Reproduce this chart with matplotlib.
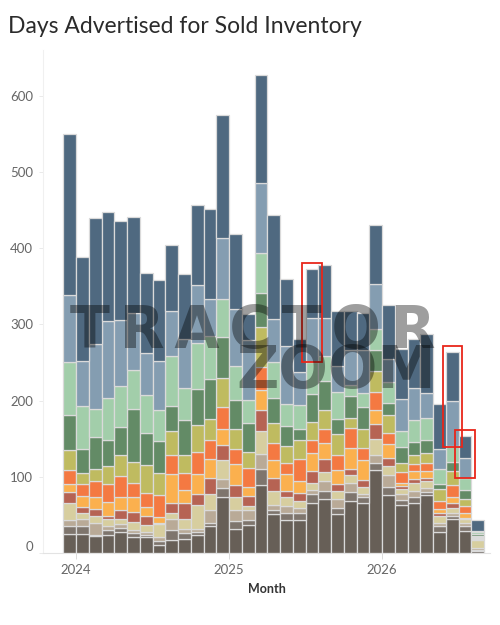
import matplotlib
matplotlib.use("Agg")
import matplotlib.pyplot as plt
from matplotlib.patches import Rectangle
import numpy as np

# ---- data (months Dec 2023 .. Aug 2026), stacked bottom -> top ----
months = [f"{y}-{m:02d}" for y, m in
          [(2023, 12)] + [(2024, m) for m in range(1, 13)] +
          [(2025, m) for m in range(1, 13)] + [(2026, m) for m in range(1, 9)]]

s01 = [25,25,22,24,27,21,21,10,17,18,24,35,74,32,37,89,51,43,43,65,71,51,68,66,109,76,63,65,76,28,44,29,2]
s02 = [10,10,2,6,6,5,3,6,13,8,4,5,11,10,6,21,6,10,9,13,11,8,12,8,9,11,7,9,4,7,5,6,2]
s03 = [8,9,15,5,5,4,4,5,14,5,4,17,12,15,13,20,6,9,7,5,12,12,12,4,10,15,8,8,5,4,3,4,3]
s04 = [22,9,9,9,6,11,9,17,9,13,31,21,25,17,6,30,18,11,9,9,12,10,11,8,21,12,6,10,9,10,7,6,10]
s05 = [15,8,10,5,12,13,11,1,12,22,15,20,20,15,13,28,17,8,11,16,17,10,7,10,20,10,4,5,4,4,7,1,1]
s06 = [11,14,16,18,18,20,13,8,39,17,26,25,21,28,12,26,24,23,15,23,21,18,28,26,19,19,4,10,9,5,7,7,2]
s07 = [18,15,20,23,27,18,18,29,24,22,28,25,28,19,25,30,22,14,29,17,19,19,26,16,23,14,14,10,11,10,16,9,1]
s08 = [26,15,16,24,27,28,37,29,32,23,36,28,38,27,20,53,26,23,25,24,25,28,13,25,28,24,12,12,13,16,18,9,1]
s09 = [46,31,42,34,37,69,41,42,33,46,47,52,55,38,38,44,34,26,15,37,38,20,29,29,28,16,21,16,17,7,12,12,3]
s10 = [69,57,37,56,54,51,50,41,66,42,61,57,49,44,31,53,46,28,31,42,33,35,15,18,27,28,21,30,29,19,21,16,2]
s11 = [89,59,85,100,87,75,55,64,59,65,76,48,80,75,79,92,57,76,43,57,50,34,46,57,59,30,42,42,33,27,59,26,2]
s12 = [211,136,166,143,129,126,106,106,86,85,104,119,162,98,33,141,136,88,44,65,69,73,51,48,78,71,66,64,78,59,65,29,14]

series = [s01, s02, s03, s04, s05, s06, s07, s08, s09, s10, s11, s12]
colors = ["#675f57", "#7e756d", "#b9aa97", "#d7ce9f", "#b66353", "#fbb04e",
          "#f47942", "#bfbb60", "#638b66", "#a2ceaa", "#849db1", "#4f6980"]

highlight_bars = ["2025-07", "2026-06", "2026-07"]   # boxed bars (top two segments)
yticks = [0, 100, 200, 300, 400, 500, 600]

# ---- figure ----
fig = plt.figure(figsize=(5, 6.25), dpi=100)
ax = fig.add_axes([0.086, 0.1152, 0.894, 0.8048])

x = np.arange(len(months))
bottom = np.zeros(len(months))
for vals, c in zip(series, colors):
    v = np.array(vals, dtype=float)
    ax.bar(x, v, bottom=bottom, width=1.0, color=c, edgecolor="#dadada",
           linewidth=0.9, zorder=2)
    bottom += v

# highlight boxes around the top two segments of selected bars
total = bottom
lower2 = total - np.array(s11) - np.array(s12)
for m in highlight_bars:
    i = months.index(m)
    y0 = lower2[i] - 1
    ax.add_patch(Rectangle((i - 0.75, y0), 1.5, total[i] + 7 - y0, fill=False,
                           edgecolor="#e8261a", linewidth=1.3, zorder=5))

ax.set_xlim(-2.09, 32.96)
ax.set_ylim(0, 660)

font = "Lato"
jan_idx = [i for i, m in enumerate(months) if m.endswith("-01")]
ax.set_xticks([i - 0.5 for i in jan_idx])
ax.set_xticklabels([months[i][:4] for i in jan_idx], fontsize=9.5,
                   color="#666666", family=font)
ax.set_yticks(yticks)
ax.set_yticklabels([str(t) for t in yticks], fontsize=9.5, color="#666666",
                   family=font)
ax.yaxis.get_major_ticks()[0].label1.set_verticalalignment("bottom")

ax.tick_params(axis="y", length=3, width=0.6, color="#e6e6e6", pad=4)
ax.tick_params(axis="x", length=4, width=0.6, color="#d6d6d6", pad=4)
for s in ["top", "right"]:
    ax.spines[s].set_visible(False)
ax.spines["left"].set_color("#f0f0f0")
ax.spines["bottom"].set_color("#e3e3e3")
ax.spines["left"].set_linewidth(0.8)
ax.spines["bottom"].set_linewidth(0.8)

ax.set_xlabel("Month", fontsize=9, color="#333333", family=font,
              fontweight="bold", labelpad=5)

fig.text(0.016, 0.957, "Days Advertised for Sold Inventory", fontsize=16.5,
         color="#2b2b2b", family=font, va="center", ha="left")

# watermark (one text object, two lines; letter-spaced first line)
sp = "\u2006"
fig.text(0.872, 0.515, sp.join("TRACTOR") + "\nZOOM", fontsize=42, fontweight="bold",
         family="DejaVu Sans", color="black", alpha=0.38, ha="right",
         multialignment="right", va="top", linespacing=0.62, zorder=10)

fig.savefig("out.png", dpi=100)
